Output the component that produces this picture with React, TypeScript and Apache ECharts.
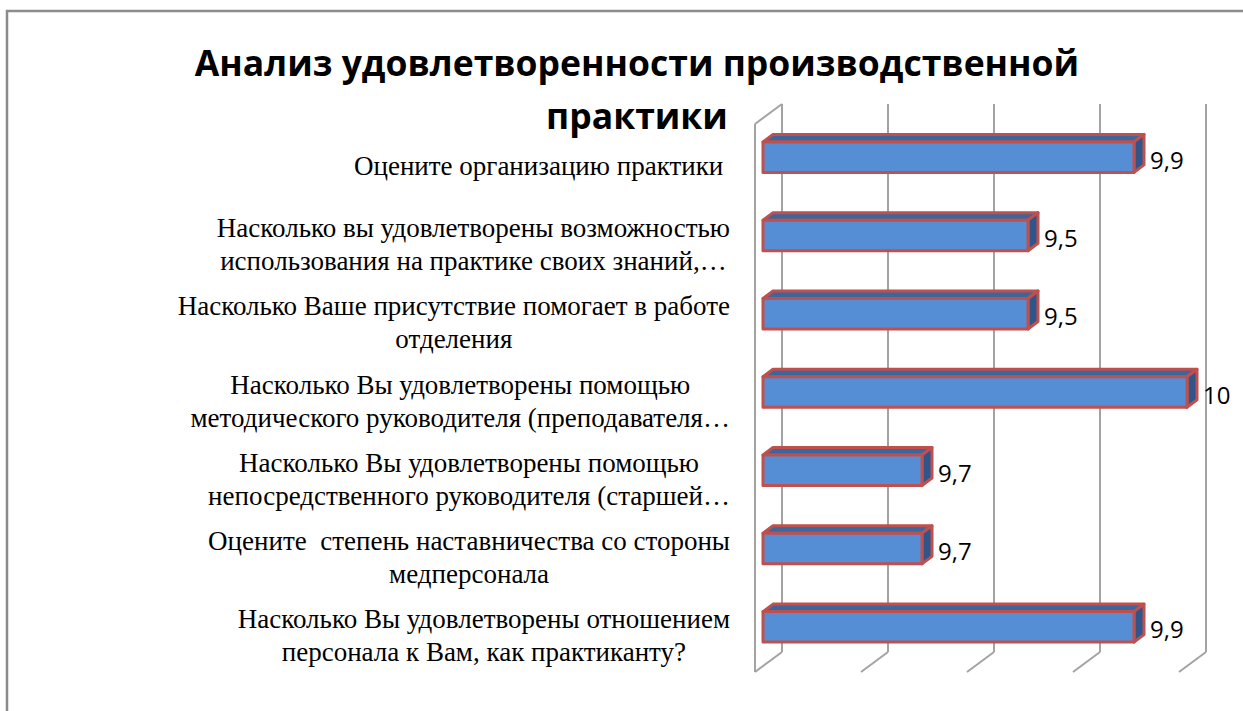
import React, { useEffect, useRef } from "react";
import * as echarts from "echarts";

const chartTitle = "Анализ удовлетворенности производственной\nпрактики";
const categories = [
  "Оцените организацию практики ",
  "Насколько вы удовлетворены возможностью\nиспользования на практике своих знаний,…",
  "Насколько Ваше присутствие помогает в работе\nотделения",
  "Насколько Вы удовлетворены помощью\nметодического руководителя (преподавателя…",
  "Насколько Вы удовлетворены помощью\nнепосредственного руководителя (старшей…",
  "Оцените  степень наставничества со стороны\nмедперсонала",
  "Насколько Вы удовлетворены отношением\nперсонала к Вам, как практиканту?",
];
// bar lengths as drawn (in gridline units)
const barLengths = [3.5, 2.5, 2.5, 4, 1.5, 1.5, 3.5];
// data labels as printed
const valueLabels = ["9,9", "9,5", "9,5", "10", "9,7", "9,7", "9,9"];
const xTicks = [0, 1, 2, 3, 4];

// 3D offsets (px)
const WALL_DX = -27;
const WALL_DY = 20;
const BAR_DX = -19;
const BAR_DY = 14;
const DEPTH_DX = 10;
const DEPTH_DY = -7.5;

const GRID_COLOR = "#a3a3a3";
const RED = "#c0504d";

export default function App() {
  const ref = useRef<HTMLDivElement>(null);
  useEffect(() => {
    document.body.style.margin = "0";
    const chart = echarts.init(ref.current!, null, { renderer: "svg" });
    const option: any = {
      animation: false,
      backgroundColor: "#ffffff",
      title: {
        text: chartTitle,
        left: 632,
        top: 30,
        textAlign: "center",
        textStyle: {
          fontFamily: "'Open Sans', sans-serif",
          fontWeight: "bold",
          fontSize: 35.5,
          lineHeight: 53,
          color: "#000",
        },
      },
      graphic: [
        {
          type: "polyline",
          shape: { points: [[7, 720], [7, 11], [1260, 11]] },
          style: { stroke: "#8c8c8c", lineWidth: 2.5, fill: null },
          silent: true,
        },
      ],
      grid: [
        { left: 782, top: 104, width: 424, height: 548 },
        { left: 782 + WALL_DX, top: 104 + WALL_DY, width: 424, height: 548 },
      ],
      xAxis: [
        {
          gridIndex: 0,
          type: "value",
          min: 0,
          max: 4,
          interval: 1,
          axisLine: { show: false },
          axisTick: { show: false },
          axisLabel: { show: false },
          splitLine: { show: true, lineStyle: { color: GRID_COLOR, width: 2 } },
        },
        { gridIndex: 1, type: "value", min: 0, max: 4, show: false },
      ],
      yAxis: [
        { gridIndex: 0, type: "category", data: categories, inverse: true, show: false },
        {
          gridIndex: 1,
          type: "category",
          data: categories,
          inverse: true,
          axisLine: { show: false },
          axisTick: { show: false },
          splitLine: { show: false },
          axisLabel: {
            margin: 25,
            align: "right",
            formatter: (v: string) =>
              v
                .split("\n")
                .map((l) => `{c|${l}}`)
                .join("\n"),
            rich: {
              c: {
                align: "center",
                fontFamily: "'Liberation Serif', serif",
                fontSize: 27,
                lineHeight: 33,
                color: "#000",
                padding: [6, 0, 0, 0],
              },
            },
          },
        },
      ],
      series: [
        {
          type: "custom",
          name: "floor",
          xAxisIndex: 0,
          yAxisIndex: 0,
          silent: true,
          data: xTicks.map((t) => [t, 0]),
          encode: { x: 0, y: 1 },
          renderItem: (params: any, api: any) => {
            const t = api.value(0);
            const x = api.coord([t, 0])[0];
            const cs = params.coordSys;
            const bottom = cs.y + cs.height;
            const children: any[] = [
              {
                type: "line",
                shape: { x1: x, y1: bottom, x2: x + WALL_DX, y2: bottom + WALL_DY },
                style: { stroke: GRID_COLOR, lineWidth: 2 },
              },
            ];
            if (t === 0) {
              children.push(
                {
                  type: "line",
                  shape: { x1: x + WALL_DX, y1: cs.y + WALL_DY, x2: x + WALL_DX, y2: bottom + WALL_DY },
                  style: { stroke: GRID_COLOR, lineWidth: 2 },
                },
                {
                  type: "line",
                  shape: { x1: x, y1: cs.y, x2: x + WALL_DX, y2: cs.y + WALL_DY },
                  style: { stroke: GRID_COLOR, lineWidth: 2 },
                }
              );
            }
            return { type: "group", children };
          },
        },
        {
          type: "custom",
          name: "bars",
          xAxisIndex: 0,
          yAxisIndex: 0,
          data: barLengths.map((v, i) => [v, i]),
          encode: { x: 0, y: 1 },
          renderItem: (params: any, api: any) => {
            const v = api.value(0);
            const c = api.value(1);
            const p0 = api.coord([0, c]);
            const p1 = api.coord([v, c]);
            const band = api.size([0, 1])[1];
            const h = band * 0.39;
            const fx0 = p0[0] + BAR_DX;
            const fx1 = p1[0] + BAR_DX;
            const cy = p0[1] + BAR_DY;
            const fy0 = cy - h / 2;
            const fy1 = cy + h / 2;
            const stroke = { stroke: RED, lineWidth: 3, lineJoin: "round" };
            return {
              type: "group",
              children: [
                {
                  type: "polygon",
                  shape: {
                    points: [
                      [fx0, fy0],
                      [fx0 + DEPTH_DX, fy0 + DEPTH_DY],
                      [fx1 + DEPTH_DX, fy0 + DEPTH_DY],
                      [fx1, fy0],
                    ],
                  },
                  style: { fill: "#3c679e", ...stroke },
                },
                {
                  type: "polygon",
                  shape: {
                    points: [
                      [fx1, fy0],
                      [fx1 + DEPTH_DX, fy0 + DEPTH_DY],
                      [fx1 + DEPTH_DX, fy1 + DEPTH_DY],
                      [fx1, fy1],
                    ],
                  },
                  style: { fill: "#30558a", ...stroke },
                },
                {
                  type: "rect",
                  shape: { x: fx0, y: fy0, width: fx1 - fx0, height: h },
                  style: { fill: "#558ed5", ...stroke },
                },
                {
                  type: "text",
                  x: fx1 + DEPTH_DX + 6,
                  y: cy + 2,
                  style: {
                    text: valueLabels[c],
                    fontFamily: "'Open Sans', sans-serif",
                    fontSize: 24,
                    fill: "#000",
                    align: "left",
                    verticalAlign: "middle",
                  },
                },
              ],
            };
          },
        },
      ],
    };
    chart.setOption(option);
    return () => chart.dispose();
  }, []);
  return (
    <div
      ref={ref}
      style={{ position: "fixed", left: 0, top: 0, width: 1243, height: 711 }}
    />
  );
}
